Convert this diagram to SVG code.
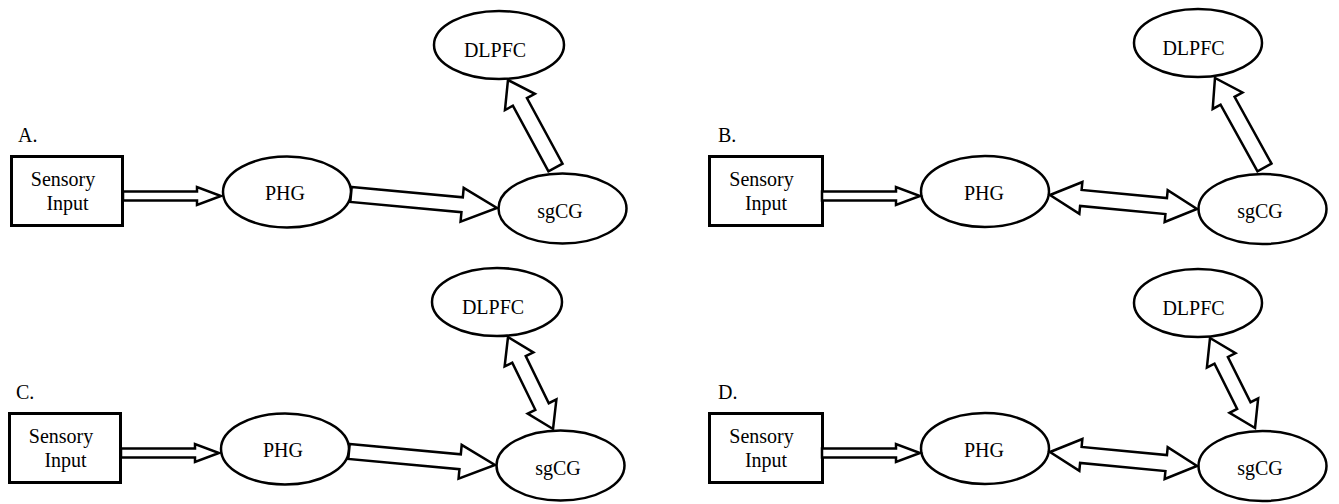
<svg xmlns="http://www.w3.org/2000/svg" width="1339" height="504" viewBox="0 0 1339 504" font-family="'Liberation Serif', 'Times New Roman', Times, serif">
  <style>
    .box { fill: #fff; stroke: #000; stroke-width: 3; }
    .oval { fill: #fff; stroke: #000; stroke-width: 2.5; }
    .arrow { fill: #fff; stroke: #000; stroke-width: 2.5; stroke-linejoin: miter; }
    .t { font-family: 'Liberation Serif', 'Times New Roman', Times, serif; font-size: 20px; fill: #000; }
    .c { text-anchor: middle; }
  </style>
  <rect width="1339" height="504" fill="#fff"/>

  <!-- Panel A -->
  <g id="panel-a">
    <text class="t" x="18" y="142">A.</text>
    <g id="a-sensory">
      <rect class="box" x="11.5" y="156.5" width="111" height="69"/>
      <text class="t c" x="63" y="186">Sensory</text>
      <text class="t c" x="67.5" y="210">Input</text>
    </g>
    <g id="a-phg">
      <ellipse class="oval" cx="287" cy="192" rx="64" ry="35.5"/>
      <text class="t c" x="285" y="200">PHG</text>
    </g>
    <g id="a-sgcg">
      <ellipse class="oval" cx="562.5" cy="208.5" rx="64" ry="35"/>
      <text class="t c" x="560" y="218">sgCG</text>
    </g>
    <g id="a-dlpfc">
      <ellipse class="oval" cx="499" cy="45" rx="65" ry="34"/>
      <text class="t c" x="495" y="57">DLPFC</text>
    </g>
    <g id="a-connectors">
      <path class="arrow" transform="translate(123,196)" d="M0,-4.5 H74 V-9 L98,0 L74,9 V4.5 H0 Z"/>
      <path class="arrow" transform="translate(351,194.5) rotate(5.28)" d="M0,-7.5 H111.6 V-17 L146.6,0 L111.6,17 V7.5 H0 Z"/>
      <path class="arrow" transform="translate(555.5,167.5) rotate(-118.5)" d="M0,-8 H74.6 V-17 L99.6,0 L74.6,17 V8 H0 Z"/>
    </g>
  </g>

  <!-- Panel B -->
  <g id="panel-b">
    <text class="t" x="718" y="142">B.</text>
    <g id="b-sensory">
      <rect class="box" x="709.5" y="156.5" width="113" height="69"/>
      <text class="t c" x="761.5" y="186">Sensory</text>
      <text class="t c" x="766" y="210">Input</text>
    </g>
    <g id="b-phg">
      <ellipse class="oval" cx="985" cy="191.5" rx="64" ry="35.5"/>
      <text class="t c" x="984" y="200">PHG</text>
    </g>
    <g id="b-sgcg">
      <ellipse class="oval" cx="1262.5" cy="209" rx="64" ry="35"/>
      <text class="t c" x="1260" y="218">sgCG</text>
    </g>
    <g id="b-dlpfc">
      <ellipse class="oval" cx="1198" cy="43" rx="64" ry="34"/>
      <text class="t c" x="1193.5" y="55">DLPFC</text>
    </g>
    <g id="b-connectors">
      <path class="arrow" transform="translate(822,196)" d="M0,-4.5 H74 V-9 L98,0 L74,9 V4.5 H0 Z"/>
      <path class="arrow" transform="translate(1050,195) rotate(5.44)" d="M0,0 L31,-16 V-8 H116.7 V-16 L147.7,0 L116.7,16 V8 H31 V16 Z"/>
      <path class="arrow" transform="translate(1264.5,167.5) rotate(-118.95)" d="M0,-8 H76.3 V-17 L102.3,0 L76.3,17 V8 H0 Z"/>
    </g>
  </g>

  <!-- Panel C -->
  <g id="panel-c">
    <text class="t" x="16" y="399">C.</text>
    <g id="c-sensory">
      <rect class="box" x="9.5" y="413.5" width="111" height="69"/>
      <text class="t c" x="61" y="443">Sensory</text>
      <text class="t c" x="65.5" y="467">Input</text>
    </g>
    <g id="c-phg">
      <ellipse class="oval" cx="285" cy="449" rx="64" ry="35.5"/>
      <text class="t c" x="283" y="457">PHG</text>
    </g>
    <g id="c-sgcg">
      <ellipse class="oval" cx="560.5" cy="465.5" rx="64" ry="35"/>
      <text class="t c" x="558" y="475">sgCG</text>
    </g>
    <g id="c-dlpfc">
      <ellipse class="oval" cx="497" cy="302" rx="65" ry="34"/>
      <text class="t c" x="493" y="314">DLPFC</text>
    </g>
    <g id="c-connectors">
      <path class="arrow" transform="translate(121,453)" d="M0,-4.5 H74 V-9 L98,0 L74,9 V4.5 H0 Z"/>
      <path class="arrow" transform="translate(349,451.5) rotate(5.28)" d="M0,-7.5 H111.6 V-17 L146.6,0 L111.6,17 V7.5 H0 Z"/>
      <path class="arrow" transform="translate(508,337) rotate(63.9)" d="M0,0 L25,-16 V-7.5 H77.4 V-16 L102.4,0 L77.4,16 V7.5 H25 V16 Z"/>
    </g>
  </g>

  <!-- Panel D -->
  <g id="panel-d">
    <text class="t" x="718" y="399">D.</text>
    <g id="d-sensory">
      <rect class="box" x="709.5" y="413.5" width="113" height="69"/>
      <text class="t c" x="761.5" y="443">Sensory</text>
      <text class="t c" x="766" y="467">Input</text>
    </g>
    <g id="d-phg">
      <ellipse class="oval" cx="985" cy="448.5" rx="64" ry="35.5"/>
      <text class="t c" x="984" y="457">PHG</text>
    </g>
    <g id="d-sgcg">
      <ellipse class="oval" cx="1262.5" cy="466" rx="64" ry="35"/>
      <text class="t c" x="1260" y="475">sgCG</text>
    </g>
    <g id="d-dlpfc">
      <ellipse class="oval" cx="1198" cy="303" rx="64" ry="34"/>
      <text class="t c" x="1193.5" y="315">DLPFC</text>
    </g>
    <g id="d-connectors">
      <path class="arrow" transform="translate(822,453)" d="M0,-4.5 H74 V-9 L98,0 L74,9 V4.5 H0 Z"/>
      <path class="arrow" transform="translate(1050,452) rotate(5.44)" d="M0,0 L31,-16 V-8 H116.7 V-16 L147.7,0 L116.7,16 V8 H31 V16 Z"/>
      <path class="arrow" transform="translate(1210,338) rotate(63.4)" d="M0,0 L25,-16 V-7.5 H75.6 V-16 L100.6,0 L75.6,16 V7.5 H25 V16 Z"/>
    </g>
  </g>
</svg>
